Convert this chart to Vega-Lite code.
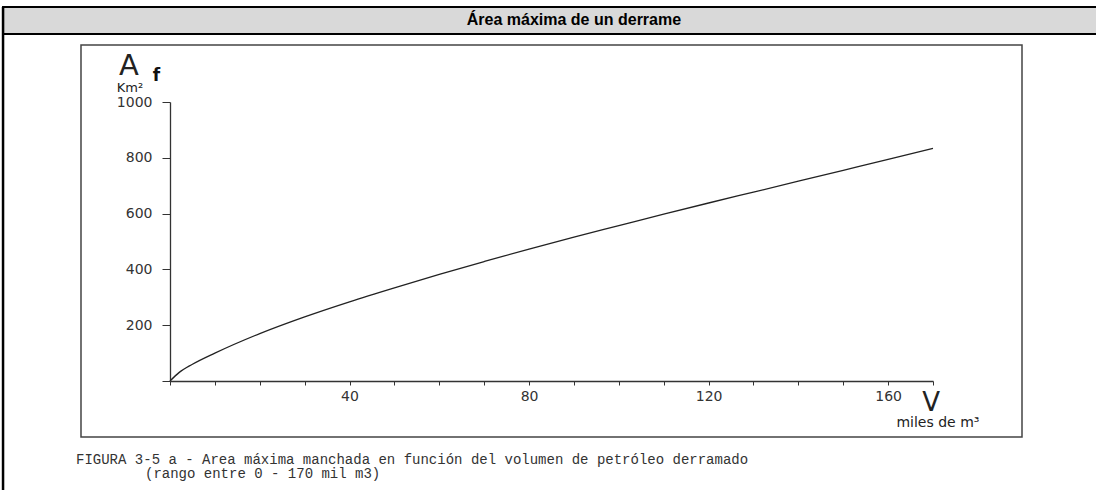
{
  "$schema": "https://vega.github.io/schema/vega-lite/v6.json",
  "width": 763,
  "height": 279,
  "autosize": {"type": "none"},
  "padding": {"left": 170, "top": 102, "right": 163, "bottom": 109},
  "background": "white",
  "config": {
    "view": {"stroke": null},
    "axis": {"grid": false, "title": null}
  },
  "datasets": {
    "curve": [
      {"V": 0, "A": 0},
      {"V": 2, "A": 30},
      {"V": 5, "A": 60},
      {"V": 10, "A": 100},
      {"V": 20, "A": 170},
      {"V": 30, "A": 230},
      {"V": 40, "A": 284},
      {"V": 50, "A": 334},
      {"V": 60, "A": 382},
      {"V": 70, "A": 428},
      {"V": 80, "A": 473},
      {"V": 90, "A": 516},
      {"V": 100, "A": 557},
      {"V": 110, "A": 598},
      {"V": 120, "A": 638},
      {"V": 130, "A": 677},
      {"V": 140, "A": 716},
      {"V": 150, "A": 755},
      {"V": 160, "A": 794},
      {"V": 170, "A": 834}
    ]
  },
  "layer": [
    {
      "data": {"values": [{}]},
      "mark": {"type": "rect", "fill": "#d9d9d9", "stroke": "#000000", "strokeWidth": 2, "clip": false},
      "encoding": {
        "x": {"datum": -37.2, "type": "quantitative", "scale": {"domain": [0, 170], "nice": false, "zero": false}},
        "x2": {"datum": 208},
        "y": {"datum": 1340.5, "type": "quantitative", "scale": {"domain": [0, 1000], "nice": false, "zero": false}},
        "y2": {"datum": 1243.7}
      }
    },
    {
      "data": {"values": [{}]},
      "mark": {"type": "rule", "stroke": "#000000", "strokeWidth": 2.5, "clip": false},
      "encoding": {
        "x": {"datum": -37.2, "type": "quantitative"},
        "y": {"datum": 1340.5, "type": "quantitative"},
        "y2": {"datum": -420}
      }
    },
    {
      "data": {"values": [{}]},
      "mark": {"type": "text", "text": "Área máxima de un derrame", "font": "Liberation Sans", "fontSize": 16, "fontWeight": "bold", "color": "#000000", "align": "center", "baseline": "middle"},
      "encoding": {
        "x": {"datum": 90.0, "type": "quantitative"},
        "y": {"datum": 1293.9, "type": "quantitative"}
      }
    },
    {
      "data": {"values": [{}]},
      "mark": {"type": "rect", "fill": null, "stroke": "#444444", "strokeWidth": 1.5, "clip": false},
      "encoding": {
        "x": {"datum": -19.83, "type": "quantitative"},
        "x2": {"datum": 189.83},
        "y": {"datum": 1204.3, "type": "quantitative"},
        "y2": {"datum": -200.7}
      }
    },
    {
      "data": {"name": "curve"},
      "mark": {"type": "line", "color": "#222222", "strokeWidth": 1.3, "interpolate": "monotone"},
      "encoding": {
        "x": {
          "field": "V",
          "type": "quantitative",
          "scale": {"domain": [0, 170], "nice": false, "zero": false},
          "axis": {
            "values": [0, 10, 20, 30, 40, 50, 60, 70, 80, 90, 100, 110, 120, 130, 140, 150, 160, 170],
            "labelExpr": "datum.value % 40 === 0 && datum.value > 0 ? datum.label : ''",
            "domainColor": "#333333",
            "domainWidth": 1.3,
            "tickColor": "#333333",
            "tickSize": 4,
            "labelPadding": 4,
            "labelFont": "DejaVu Sans",
            "labelFontSize": 14,
            "labelColor": "#333333",
            "title": null
          }
        },
        "y": {
          "field": "A",
          "type": "quantitative",
          "scale": {"domain": [0, 1000], "nice": false, "zero": false},
          "axis": {
            "values": [0, 100, 200, 300, 400, 500, 600, 700, 800, 900, 1000],
            "labelExpr": "datum.value % 200 === 0 && datum.value > 0 ? datum.label : ''",
            "format": "d",
            "domainColor": "#333333",
            "domainWidth": 1.3,
            "tickColor": "#333333",
            "tickSize": 8,
            "labelPadding": 10,
            "labelFont": "DejaVu Sans",
            "labelFontSize": 14,
            "labelColor": "#333333",
            "title": null
          }
        }
      }
    },
    {
      "data": {"values": [{}]},
      "mark": {"type": "text", "text": "A", "font": "DejaVu Sans", "fontSize": 29, "color": "#222222", "align": "center", "baseline": "alphabetic"},
      "encoding": {
        "x": {"datum": -9.14, "type": "quantitative"},
        "y": {"datum": 1096.8, "type": "quantitative"}
      }
    },
    {
      "data": {"values": [{}]},
      "mark": {"type": "text", "text": "f", "font": "DejaVu Sans", "fontSize": 17, "fontWeight": "bold", "color": "#111111", "align": "center", "baseline": "alphabetic"},
      "encoding": {
        "x": {"datum": -3.0, "type": "quantitative"},
        "y": {"datum": 1075.3, "type": "quantitative"}
      }
    },
    {
      "data": {"values": [{}]},
      "mark": {"type": "text", "text": "Km²", "font": "DejaVu Sans", "fontSize": 13, "color": "#222222", "align": "center", "baseline": "alphabetic"},
      "encoding": {
        "x": {"datum": -8.91, "type": "quantitative"},
        "y": {"datum": 1035.8, "type": "quantitative"}
      }
    },
    {
      "data": {"values": [{}]},
      "mark": {"type": "text", "text": "V", "font": "DejaVu Sans", "fontSize": 26, "color": "#222222", "align": "center", "baseline": "alphabetic"},
      "encoding": {
        "x": {"datum": 169.56, "type": "quantitative"},
        "y": {"datum": -107.5, "type": "quantitative"}
      }
    },
    {
      "data": {"values": [{}]},
      "mark": {"type": "text", "text": "miles de m³", "font": "DejaVu Sans", "fontSize": 14, "color": "#222222", "align": "center", "baseline": "alphabetic"},
      "encoding": {
        "x": {"datum": 171.1, "type": "quantitative"},
        "y": {"datum": -164.9, "type": "quantitative"}
      }
    },
    {
      "data": {"values": [{}]},
      "mark": {"type": "text", "text": "FIGURA 3-5 a - Area máxima manchada en función del volumen de petróleo derramado", "font": "Liberation Mono", "fontSize": 14, "color": "#333333", "align": "left", "baseline": "alphabetic"},
      "encoding": {
        "x": {"datum": -20.94, "type": "quantitative"},
        "y": {"datum": -297.5, "type": "quantitative"}
      }
    },
    {
      "data": {"values": [{}]},
      "mark": {"type": "text", "text": "(rango entre 0 - 170 mil m3)", "font": "Liberation Mono", "fontSize": 14, "color": "#333333", "align": "left", "baseline": "alphabetic"},
      "encoding": {
        "x": {"datum": -5.57, "type": "quantitative"},
        "y": {"datum": -347.7, "type": "quantitative"}
      }
    }
  ]
}
